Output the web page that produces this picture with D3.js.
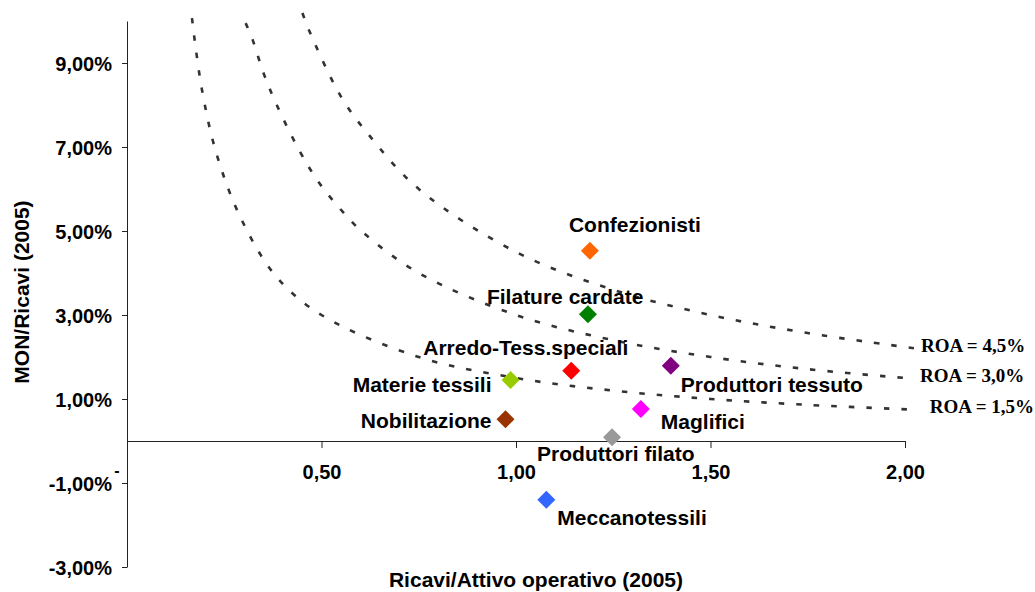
<!DOCTYPE html>
<html>
<head>
<meta charset="utf-8">
<script src="https://cdn.jsdelivr.net/npm/d3@7"></script>
<style>
  html, body { margin: 0; padding: 0; background: #fff; }
  svg { display: block; }
  text { font-family: "Liberation Sans", Arial, sans-serif; font-weight: bold; fill: #000; }
  .roa { font-family: "Liberation Serif", "Times New Roman", serif; font-weight: bold; }
</style>
</head>
<body>
<svg id="chart" width="1035" height="592"></svg>
<script>
// ---- data ----
const categories = ["Confezionisti", "Filature cardate", "Arredo-Tess.speciali", "Produttori tessuto",
  "Materie tessili", "Nobilitazione", "Maglifici", "Produttori filato", "Meccanotessili"];
const ricaviAttivo = [1.19, 1.185, 1.142, 1.398, 0.986, 0.973, 1.321, 1.247, 1.078];
const monRicavi = [4.53, 3.02, 1.67, 1.79, 1.45, 0.52, 0.76, 0.09, -1.40];
const pointColors = ["#FF6600", "#008000", "#FF0000", "#800080", "#99CC00", "#993300", "#FF00FF", "#999999", "#3366FF"];

const xTicks = [0, 0.5, 1, 1.5, 2];
const xTickLabels = ["", "0,50", "1,00", "1,50", "2,00"];
const yTicks = [-3, -1, 1, 3, 5, 7, 9];
const yTickLabels = ["-3,00%", "-1,00%", "1,00%", "3,00%", "5,00%", "7,00%", "9,00%"];

const roaNames = ["ROA = 1,5%", "ROA = 3,0%", "ROA = 4,5%"];
const roa15X = [0.167, 0.192, 0.231, 0.295, 0.385, 0.5, 0.75, 1.0, 1.25, 1.5, 1.75, 2.015];
const roa15Y = [10.07, 8.4, 6.81, 5.26, 3.9, 3.0, 2.0, 1.5, 1.2, 1.0, 0.86, 0.75];
const roa30X = [0.305, 0.323, 0.351, 0.385, 0.444, 0.49, 0.544, 0.605, 0.75, 1.0, 1.25, 1.5, 1.75, 2.0];
const roa30Y = [9.95, 9.55, 8.76, 8.0, 6.9, 6.2, 5.57, 4.98, 4.0, 3.0, 2.4, 2.0, 1.71, 1.5];
const roa45X = [0.451, 0.467, 0.55, 0.618, 0.75, 1.0, 1.25, 1.5, 1.75, 2.023];
const roa45Y = [10.19, 9.8, 8.2, 7.33, 6.0, 4.5, 3.6, 3.0, 2.57, 2.21];

// ---- layout / style ----
const labelPlacement = [
  {dx: -21, dy: -19, anchor: "start"},
  {dx: -101, dy: -10, anchor: "start"},
  {dx: -148, dy: -16, anchor: "start"},
  {dx: 10, dy: 26, anchor: "start"},
  {dx: -19, dy: 12, anchor: "end"},
  {dx: -14, dy: 9, anchor: "end"},
  {dx: 20, dy: 20, anchor: "start"},
  {dx: -75, dy: 24, anchor: "start"},
  {dx: 11, dy: 25, anchor: "start"}
];
const roaLabelOffset = [{dx: 19, dy: 3}, {dx: 15, dy: 4}, {dx: 7, dy: 4}];
const labelSize = 21;
const tickSize = 20;

const svg = d3.select("#chart");
const x = d3.scaleLinear().domain([0, 2]).range([127, 905]);
const y = d3.scaleLinear().domain([-3, 10]).range([567, 21]);

// ROA curves
const curves = [
  roa15X.map((v, i) => [v, roa15Y[i]]),
  roa30X.map((v, i) => [v, roa30Y[i]]),
  roa45X.map((v, i) => [v, roa45Y[i]])
];
const line = d3.line().x(d => x(d[0])).y(d => y(d[1])).curve(d3.curveCatmullRom.alpha(0.5));
svg.append("g").selectAll("path").data(curves).join("path")
  .attr("d", line)
  .attr("fill", "none")
  .attr("stroke", "#333")
  .attr("stroke-width", 2.6)
  .attr("stroke-dasharray", "5.5 12");

svg.append("g").selectAll("text").data(curves).join("text")
  .attr("class", "roa")
  .attr("x", (d, i) => x(d[d.length - 1][0]) + roaLabelOffset[i].dx)
  .attr("y", (d, i) => y(d[d.length - 1][1]) + roaLabelOffset[i].dy)
  .attr("font-size", 19)
  .text((d, i) => roaNames[i]);

// X axis (at y = 0)
const xAxis = svg.append("g")
  .attr("transform", `translate(0,${y(0)})`)
  .call(d3.axisBottom(x).tickValues(xTicks).tickSizeInner(7).tickSizeOuter(0)
    .tickFormat((d, i) => xTickLabels[i]));
xAxis.select(".domain").attr("stroke", "#222");
xAxis.selectAll(".tick line").attr("stroke", "#222");
xAxis.selectAll(".tick text")
  .attr("y", 38).attr("dy", 0)
  .attr("font-size", tickSize)
  .attr("font-family", "Liberation Sans, Arial, sans-serif")
  .attr("font-weight", "bold").attr("fill", "#000");

// Y axis
const yAxis = svg.append("g")
  .attr("transform", `translate(${x(0)},0)`)
  .call(d3.axisLeft(y).tickValues(yTicks).tickSizeInner(5).tickSizeOuter(0)
    .tickFormat((d, i) => yTickLabels[i]));
yAxis.select(".domain").attr("stroke", "#222");
yAxis.selectAll(".tick line").attr("stroke", "#222");
yAxis.selectAll(".tick text")
  .attr("x", -15).attr("dy", 7)
  .attr("font-size", tickSize)
  .attr("font-family", "Liberation Sans, Arial, sans-serif")
  .attr("font-weight", "bold").attr("fill", "#000");

// stray dash next to -1,00%
svg.append("text")
  .attr("x", x(0) - 10).attr("y", y(-1) - 7)
  .attr("text-anchor", "middle")
  .attr("font-size", 16)
  .text("-");

// points
const sym = d3.symbol().type(d3.symbolSquare).size(162);
svg.append("g").selectAll("path").data(categories).join("path")
  .attr("d", sym)
  .attr("transform", (d, i) => `translate(${x(ricaviAttivo[i])},${y(monRicavi[i])}) rotate(45)`)
  .attr("fill", (d, i) => pointColors[i]);

// labels
svg.append("g").selectAll("text").data(categories).join("text")
  .attr("x", (d, i) => x(ricaviAttivo[i]) + labelPlacement[i].dx)
  .attr("y", (d, i) => y(monRicavi[i]) + labelPlacement[i].dy)
  .attr("text-anchor", (d, i) => labelPlacement[i].anchor)
  .attr("font-size", labelSize)
  .text(d => d);

// axis titles
svg.append("text")
  .attr("x", 536).attr("y", 587)
  .attr("text-anchor", "middle")
  .attr("font-size", labelSize)
  .text("Ricavi/Attivo operativo (2005)");
svg.append("text")
  .attr("transform", "translate(29,292) rotate(-90)")
  .attr("text-anchor", "middle")
  .attr("font-size", labelSize)
  .text("MON/Ricavi (2005)");
</script>
</body>
</html>
